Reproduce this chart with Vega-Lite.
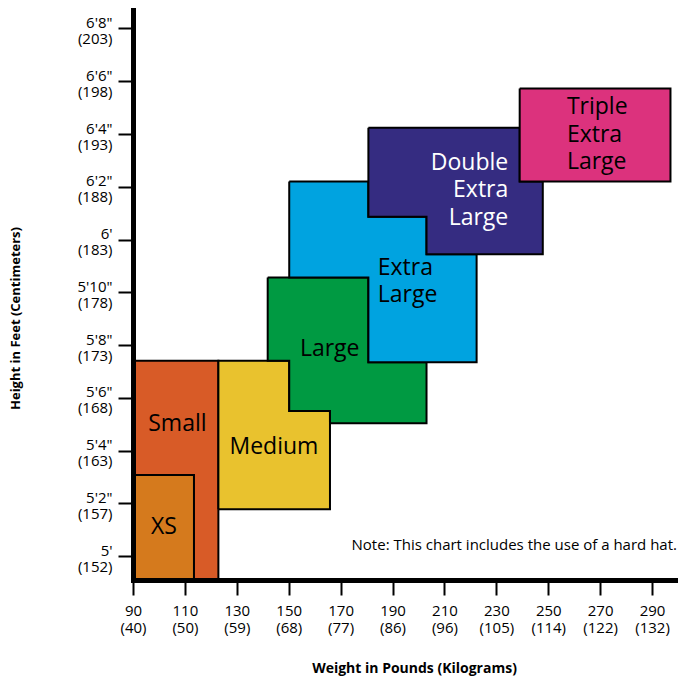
{
  "$schema": "https://vega.github.io/schema/vega-lite/v6.json",
  "width": 545,
  "height": 570,
  "autosize": "none",
  "padding": {"left": 133, "top": 10, "right": 0, "bottom": 97},
  "background": "white",
  "config": {"view": {"stroke": null}, "font": "Open Sans"},
  "datasets": {
    "shapes": [
      {"size": "XS", "i": 0, "lb": 90, "in": 59.1},
      {"size": "XS", "i": 1, "lb": 113.5, "in": 59.1},
      {"size": "XS", "i": 2, "lb": 113.5, "in": 63.08},
      {"size": "XS", "i": 3, "lb": 90, "in": 63.08},
      {"size": "XS", "i": 4, "lb": 90, "in": 59.1},
      {"size": "Small", "i": 0, "lb": 90, "in": 63.08},
      {"size": "Small", "i": 1, "lb": 113.5, "in": 63.08},
      {"size": "Small", "i": 2, "lb": 113.5, "in": 59.1},
      {"size": "Small", "i": 3, "lb": 122.9, "in": 59.1},
      {"size": "Small", "i": 4, "lb": 122.9, "in": 67.41},
      {"size": "Small", "i": 5, "lb": 90, "in": 67.41},
      {"size": "Small", "i": 6, "lb": 90, "in": 63.08},
      {"size": "Medium", "i": 0, "lb": 122.9, "in": 61.78},
      {"size": "Medium", "i": 1, "lb": 165.9, "in": 61.78},
      {"size": "Medium", "i": 2, "lb": 165.9, "in": 65.5},
      {"size": "Medium", "i": 3, "lb": 150.2, "in": 65.5},
      {"size": "Medium", "i": 4, "lb": 150.2, "in": 67.41},
      {"size": "Medium", "i": 5, "lb": 122.9, "in": 67.41},
      {"size": "Medium", "i": 6, "lb": 122.9, "in": 61.78},
      {"size": "Large", "i": 0, "lb": 141.9, "in": 70.56},
      {"size": "Large", "i": 1, "lb": 180.7, "in": 70.56},
      {"size": "Large", "i": 2, "lb": 180.7, "in": 67.35},
      {"size": "Large", "i": 3, "lb": 203.1, "in": 67.35},
      {"size": "Large", "i": 4, "lb": 203.1, "in": 65.04},
      {"size": "Large", "i": 5, "lb": 165.9, "in": 65.04},
      {"size": "Large", "i": 6, "lb": 165.9, "in": 65.5},
      {"size": "Large", "i": 7, "lb": 150.2, "in": 65.5},
      {"size": "Large", "i": 8, "lb": 150.2, "in": 67.41},
      {"size": "Large", "i": 9, "lb": 141.9, "in": 67.41},
      {"size": "Large", "i": 10, "lb": 141.9, "in": 70.56},
      {"size": "Extra Large", "i": 0, "lb": 150.2, "in": 74.2},
      {"size": "Extra Large", "i": 1, "lb": 180.7, "in": 74.2},
      {"size": "Extra Large", "i": 2, "lb": 180.7, "in": 72.87},
      {"size": "Extra Large", "i": 3, "lb": 203.1, "in": 72.87},
      {"size": "Extra Large", "i": 4, "lb": 203.1, "in": 71.44},
      {"size": "Extra Large", "i": 5, "lb": 222.4, "in": 71.44},
      {"size": "Extra Large", "i": 6, "lb": 222.4, "in": 67.35},
      {"size": "Extra Large", "i": 7, "lb": 180.7, "in": 67.35},
      {"size": "Extra Large", "i": 8, "lb": 180.7, "in": 70.56},
      {"size": "Extra Large", "i": 9, "lb": 150.2, "in": 70.56},
      {"size": "Extra Large", "i": 10, "lb": 150.2, "in": 74.2},
      {"size": "Double Extra Large", "i": 0, "lb": 180.7, "in": 76.24},
      {"size": "Double Extra Large", "i": 1, "lb": 239.0, "in": 76.24},
      {"size": "Double Extra Large", "i": 2, "lb": 239.0, "in": 74.2},
      {"size": "Double Extra Large", "i": 3, "lb": 247.9, "in": 74.2},
      {"size": "Double Extra Large", "i": 4, "lb": 247.9, "in": 71.44},
      {"size": "Double Extra Large", "i": 5, "lb": 203.1, "in": 71.44},
      {"size": "Double Extra Large", "i": 6, "lb": 203.1, "in": 72.87},
      {"size": "Double Extra Large", "i": 7, "lb": 180.7, "in": 72.87},
      {"size": "Double Extra Large", "i": 8, "lb": 180.7, "in": 76.24},
      {"size": "Triple Extra Large", "i": 0, "lb": 239.0, "in": 77.73},
      {"size": "Triple Extra Large", "i": 1, "lb": 297.1, "in": 77.73},
      {"size": "Triple Extra Large", "i": 2, "lb": 297.1, "in": 74.2},
      {"size": "Triple Extra Large", "i": 3, "lb": 239.0, "in": 74.2},
      {"size": "Triple Extra Large", "i": 4, "lb": 239.0, "in": 77.73}
    ],
    "labels": [
      {"group": "center", "label": "XS", "lb": 101.9, "in": 61.09},
      {"group": "center", "label": "Small", "lb": 107.1, "in": 65.02},
      {"group": "center", "label": "Medium", "lb": 144.3, "in": 64.13},
      {"group": "center", "label": "Large", "lb": 165.8, "in": 67.85},
      {"group": "left", "label": "Extra\nLarge", "lb": 184.3, "in": 70.94},
      {"group": "left", "label": "Triple\nExtra\nLarge", "lb": 257.2, "in": 77.01},
      {"group": "right", "label": "Double\nExtra\nLarge", "lb": 234.6, "in": 74.92},
      {"group": "note", "label": "Note: This chart includes the use of a hard hat.", "lb": 299.6, "in": 60.43}
    ]
  },
  "encoding": {
    "x": {
      "field": "lb",
      "type": "quantitative",
      "scale": {"domain": [90, 300], "nice": false, "zero": false},
      "axis": {
        "title": "Weight in Pounds (Kilograms)",
        "values": [90, 110, 130, 150, 170, 190, 210, 230, 250, 270, 290],
        "labelExpr": "[datum.label, ['(40)','(50)','(59)','(68)','(77)','(86)','(96)','(105)','(114)','(122)','(132)'][indexof([90,110,130,150,170,190,210,230,250,270,290], datum.value)]]",
        "grid": false,
        "domainColor": "black",
        "domainWidth": 5,
        "domainCap": "square",
        "tickColor": "black",
        "tickWidth": 2,
        "tickSize": 15,
        "labelColor": "black",
        "labelFont": "Open Sans",
        "labelFontSize": 15,
        "labelLineHeight": 17,
        "labelPadding": 8,
        "labelFlush": false,
        "labelOverlap": false,
        "labelBound": false,
        "titleColor": "black",
        "titleFont": "Open Sans",
        "titleFontSize": 14,
        "titleFontWeight": "bold",
        "titleX": 281,
        "titleY": 92,
        "titleAlign": "center",
        "titleBaseline": "alphabetic",
        "zindex": 1
      }
    },
    "y": {
      "field": "in",
      "type": "quantitative",
      "scale": {"domain": [59.1, 80.7], "nice": false, "zero": false},
      "axis": {
        "title": "Height in Feet (Centimeters)",
        "values": [60, 62, 64, 66, 68, 70, 72, 74, 76, 78, 80],
        "labelExpr": "[['5\\'','5\\'2\"','5\\'4\"','5\\'6\"','5\\'8\"','5\\'10\"','6\\'','6\\'2\"','6\\'4\"','6\\'6\"','6\\'8\"'][indexof([60,62,64,66,68,70,72,74,76,78,80], datum.value)], ['(152)','(157)','(163)','(168)','(173)','(178)','(183)','(188)','(193)','(198)','(203)'][indexof([60,62,64,66,68,70,72,74,76,78,80], datum.value)]]",
        "grid": false,
        "domainColor": "black",
        "domainWidth": 5,
        "domainCap": "square",
        "tickColor": "black",
        "tickWidth": 2,
        "tickSize": 15,
        "labelColor": "black",
        "labelFont": "Open Sans",
        "labelFontSize": 15,
        "labelLineHeight": 16,
        "labelPadding": 6,
        "labelOffset": -6,
        "labelAlign": "right",
        "labelBaseline": "middle",
        "labelOverlap": false,
        "labelFlush": false,
        "labelBound": false,
        "titleColor": "black",
        "titleFont": "Open Sans",
        "titleFontSize": 13,
        "titleFontWeight": "bold",
        "titleAngle": 270,
        "titleX": -114,
        "titleY": 308,
        "titleAlign": "center",
        "titleBaseline": "alphabetic",
        "zindex": 1
      }
    }
  },
  "layer": [
    {
      "data": {"name": "shapes"},
      "mark": {"type": "line", "filled": true, "stroke": "black", "strokeWidth": 2, "strokeJoin": "miter"},
      "encoding": {
        "color": {
          "field": "size",
          "type": "nominal",
          "scale": {
            "domain": ["XS", "Small", "Medium", "Large", "Extra Large", "Double Extra Large", "Triple Extra Large"],
            "range": ["#D57A1D", "#D85B27", "#E9C22E", "#009A42", "#00A3E0", "#352C81", "#DC327D"]
          },
          "legend": null
        },
        "order": {"field": "i", "type": "quantitative"}
      }
    },
    {
      "data": {"name": "labels"},
      "transform": [{"filter": "datum.group === 'center'"}],
      "mark": {"type": "text", "align": "center", "baseline": "middle", "font": "Open Sans", "fontSize": 23, "lineHeight": 27.5, "lineBreak": "\n", "color": "black"},
      "encoding": {"text": {"field": "label"}}
    },
    {
      "data": {"name": "labels"},
      "transform": [{"filter": "datum.group === 'left'"}],
      "mark": {"type": "text", "align": "left", "baseline": "middle", "font": "Open Sans", "fontSize": 23, "lineHeight": 27.5, "lineBreak": "\n", "color": "black"},
      "encoding": {"text": {"field": "label"}}
    },
    {
      "data": {"name": "labels"},
      "transform": [{"filter": "datum.group === 'right'"}],
      "mark": {"type": "text", "align": "right", "baseline": "middle", "font": "Open Sans", "fontSize": 23, "lineHeight": 27.5, "lineBreak": "\n", "color": "white"},
      "encoding": {"text": {"field": "label"}}
    },
    {
      "data": {"name": "labels"},
      "transform": [{"filter": "datum.group === 'note'"}],
      "mark": {"type": "text", "align": "right", "baseline": "middle", "font": "Open Sans", "fontSize": 15, "color": "black"},
      "encoding": {"text": {"field": "label"}}
    }
  ]
}
